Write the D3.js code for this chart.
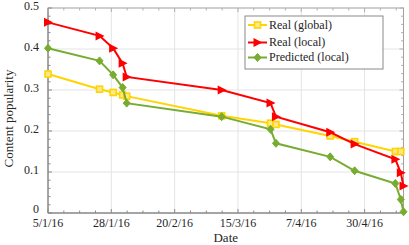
<!DOCTYPE html>
<html>
<head>
<meta charset="utf-8">
<script src="https://cdn.jsdelivr.net/npm/d3@7"></script>
<style>
  html, body { margin: 0; padding: 0; background: #fff; }
  svg { display: block; font-family: "Liberation Serif", "DejaVu Serif", serif; }
</style>
</head>
<body>
<svg id="chart" width="409" height="245"></svg>
<script>
// ---- data ----
const dates = [
  "2016-01-05", "2016-01-24", "2016-01-29", "2016-02-01T12:00", "2016-02-03",
  "2016-03-09", "2016-03-27", "2016-03-29", "2016-04-18", "2016-04-27",
  "2016-05-12", "2016-05-14", "2016-05-15"
];
const realGlobal = [0.339, 0.302, 0.294, 0.288, 0.285, 0.237, 0.219, 0.216, 0.188, 0.174, 0.150, 0.150, null];
const realLocal  = [0.465, 0.432, 0.402, 0.365, 0.332, 0.300, 0.268, 0.235, 0.197, 0.168, 0.131, 0.098, 0.066];
const predLocal  = [0.402, 0.371, 0.337, 0.306, 0.268, 0.235, 0.204, 0.170, 0.137, 0.103, 0.072, 0.033, 0.003];

const xTickDates = ["2016-01-05T00:00", "2016-01-28T08:00", "2016-02-20T16:00",
                    "2016-03-15T00:00", "2016-04-07T08:00", "2016-04-30T16:00"];
const yTicks = [0, 0.1, 0.2, 0.3, 0.4, 0.5];
const seriesNames = ["Real (global)", "Real (local)", "Predicted (local)"];

// ---- layout ----
const svg = d3.select("#chart");
const m = { left: 48, top: 8, right: 409 - 403.5, bottom: 245 - 213 };
const W = 409 - m.left - m.right;
const H = 245 - m.top - m.bottom;
const g = svg.append("g").attr("transform", `translate(${m.left},${m.top})`);

const parse = s => new Date(s);
const xDates = dates.map(parse);
const tickDates = xTickDates.map(parse);

const x = d3.scaleTime().domain([xDates[0], xDates[xDates.length - 1]]).range([0, W]);
const y = d3.scaleLinear().domain([0, 0.5]).range([H, 0]);

// grid
g.append("g").selectAll("line").data(tickDates.slice(1)).join("line")
  .attr("x1", d => x(d)).attr("x2", d => x(d))
  .attr("y1", 0).attr("y2", H)
  .attr("stroke", "#e4e4e4");
g.append("g").selectAll("line").data(yTicks.slice(1, -1)).join("line")
  .attr("x1", 0).attr("x2", W)
  .attr("y1", d => y(d)).attr("y2", d => y(d))
  .attr("stroke", "#e4e4e4");

// minor ticks
const step = tickDates[1] - tickDates[0];
const xMinor = [];
for (let t = +tickDates[0]; t <= +x.domain()[1]; t += step / 4) xMinor.push(new Date(t));
const yMinor = d3.range(0, 0.5001, 0.02);

const frame = g.append("g").attr("stroke", "#8a8a8a").attr("fill", "none");
frame.append("rect").attr("width", W).attr("height", H).attr("stroke", "#a0a0a0");
frame.append("line").attr("x1", 0).attr("x2", 0).attr("y1", 0).attr("y2", H).attr("stroke", "#7a7a7a");
frame.append("line").attr("x1", 0).attr("x2", W).attr("y1", H).attr("y2", H).attr("stroke", "#7a7a7a");

xMinor.forEach(d => {
  const big = tickDates.some(t => Math.abs(t - d) < 1000);
  const len = big ? 4 : 2.5;
  frame.append("line").attr("x1", x(d)).attr("x2", x(d)).attr("y1", H).attr("y2", H - len);
  frame.append("line").attr("x1", x(d)).attr("x2", x(d)).attr("y1", 0).attr("y2", len).attr("stroke", "#b0b0b0");
});
yMinor.forEach(d => {
  const big = yTicks.some(t => Math.abs(t - d) < 1e-6);
  const len = big ? 4 : 2.5;
  frame.append("line").attr("y1", y(d)).attr("y2", y(d)).attr("x1", 0).attr("x2", len);
  frame.append("line").attr("y1", y(d)).attr("y2", y(d)).attr("x1", W).attr("x2", W - len).attr("stroke", "#b0b0b0");
});

// tick labels
const fmt = d3.timeFormat("%-d/%-m/%y");
g.append("g").selectAll("text").data(tickDates).join("text")
  .attr("x", d => x(d)).attr("y", H + 14)
  .attr("text-anchor", "middle")
  .attr("font-size", 12).attr("fill", "#262626")
  .text(d => fmt(d));
g.append("g").selectAll("text").data(yTicks).join("text")
  .attr("x", -9).attr("y", d => y(d) + (d === 0 ? -4 : -1.5)).attr("dy", "0.32em")
  .attr("text-anchor", "end")
  .attr("font-size", 12).attr("fill", "#262626")
  .text(d => d3.format("")(d));

// axis titles
svg.append("text").attr("x", m.left + W / 2).attr("y", 242)
  .attr("text-anchor", "middle").attr("font-size", 13).attr("fill", "#262626").text("Date");
svg.append("text").attr("transform", `translate(13,${m.top + H / 2 + 8}) rotate(-90)`)
  .attr("text-anchor", "middle").attr("font-size", 13).attr("fill", "#262626").text("Content popularity");

// series
const colors = ["#ffd400", "#ff0000", "#77ac30"];
const values = [realGlobal, realLocal, predLocal];
const markers = [
  sel => sel.append("rect").attr("x", -3).attr("y", -3).attr("width", 6).attr("height", 6)
    .attr("fill", "#ffe98a").attr("stroke", colors[0]).attr("stroke-width", 1.6),
  sel => sel.append("path").attr("d", "M-4,-4.5L5,0L-4,4.5Z").attr("fill", colors[1]),
  sel => sel.append("path").attr("d", "M0,-4L3.5,0L0,4L-3.5,0Z").attr("fill", colors[2])
    .attr("stroke", colors[2]).attr("stroke-width", 1)
];

const line = d3.line().x(d => x(d.date)).y(d => y(d.val));
values.forEach((vals, i) => {
  const pts = vals.map((v, j) => ({ date: xDates[j], val: v })).filter(d => d.val !== null);
  g.append("path").datum(pts)
    .attr("fill", "none").attr("stroke", colors[i]).attr("stroke-width", 2)
    .attr("d", line);
  pts.forEach(p => {
    markers[i](g.append("g").attr("transform", `translate(${x(p.date)},${y(p.val)})`));
  });
});

// legend
const lg = svg.append("g").attr("transform", "translate(245,16)");
lg.append("rect").attr("width", 138).attr("height", 53)
  .attr("fill", "#fff").attr("stroke", "#8a8a8a");
const rowY = [9, 26.5, 41.5];
seriesNames.forEach((name, i) => {
  const r = lg.append("g").attr("transform", `translate(0,${rowY[i]})`);
  r.append("line").attr("x1", 3).attr("x2", 22).attr("stroke", colors[i]).attr("stroke-width", 2);
  markers[i](r.append("g").attr("transform", "translate(12.5,0)"));
  r.append("text").attr("x", 24).attr("dy", "0.32em")
    .attr("font-size", 12).attr("fill", "#262626").text(name);
});
</script>
</body>
</html>
